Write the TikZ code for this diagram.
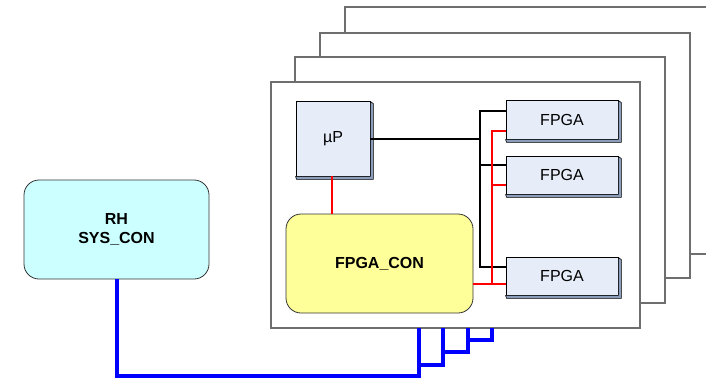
\documentclass[tikz,border=0pt]{standalone}
\usepackage{fontspec}
\setmainfont{Liberation Sans}
\usetikzlibrary{calc}
\definecolor{boxfill}{HTML}{E6ECF8}
\definecolor{boxshade}{HTML}{8C9DBB}
\definecolor{confill}{HTML}{FFFF99}
\definecolor{rhfill}{HTML}{CCFFFF}
\definecolor{boardline}{HTML}{6E6E6E}
\definecolor{busblue}{HTML}{0000FF}
\definecolor{busred}{HTML}{FF0000}
\tikzset{
  board/.style={draw=boardline,line width=1.2pt,fill=white},
  chip/.style={draw=black,line width=0.8pt,fill=boxfill,inner sep=0pt,font=\fontsize{16}{19}\selectfont},
  roundbox/.style={draw=black!80,line width=0.8pt,rounded corners=15pt,inner sep=0pt,align=center,font=\fontsize{16}{19}\selectfont\bfseries},
  blkline/.style={draw=black,line width=2pt},
  redline/.style={draw=busred,line width=2pt},
  blueline/.style={draw=busblue,line width=4pt,line join=miter},
  shade/.style={fill=boxshade,draw=black,line width=0.6pt,line join=round}
}
\newcommand{\chipshade}[1]{%
  \path[shade] ($(#1.north east)+(0,1)$) -- ++(3,2) -- ($(#1.south east)+(3,3)$) -- ($(#1.south west)+(1,3)$) -- (#1.south west) -- (#1.south east) -- cycle;}
\begin{document}
\begin{tikzpicture}[x=1pt,y=-1pt]
\useasboundingbox (0,0) rectangle (706,378);
\clip (0,0) rectangle (706,378);
% boards, back to front
\path[board] (345,7) rectangle (716,254);
\path[board] (320,33) rectangle (690,278);
\path[board] (295,57) rectangle (665,303);
\path[board] (271,82) rectangle (640,328);
% chips
\node[chip,minimum width=74pt,minimum height=75pt] (up) at (333,138.5) {µP};
\node[chip,minimum width=112pt,minimum height=39pt] (f1) at (562,119.5) {FPGA};
\node[chip,minimum width=112pt,minimum height=38pt] (f2) at (562,175) {FPGA};
\node[chip,minimum width=112pt,minimum height=38pt] (f3) at (562,276) {FPGA};
\chipshade{up}\chipshade{f1}\chipshade{f2}\chipshade{f3}
\node[roundbox,fill=confill,minimum width=187pt,minimum height=99pt] (con) at (379.5,263.5) {FPGA\_CON};
\node[roundbox,fill=rhfill,minimum width=185pt,minimum height=99pt] (rh) at (116.5,229.5) {RH\\SYS\_CON};
% black bus
\coordinate (bx) at (480,0);
\coordinate (k1) at ($(f1.north west)+(0,11)$);
\coordinate (k2) at ($(f2.north west)+(0,9)$);
\coordinate (k3) at ($(f3.north west)+(0,10)$);
\draw[blkline] (up.east) -- (up.east -| bx);
\draw[blkline] (k1) -- (k1 -| bx) -- (k3 -| bx) -- (k3);
\draw[blkline] (k2 -| bx) -- (k2);
% red bus
\coordinate (rx) at (492,0);
\coordinate (r1) at ($(f1.south west)+(0,-8)$);
\coordinate (r2) at ($(f2.south west)+(0,-9)$);
\coordinate (r3) at ($(f3.south west)+(0,-11)$);
\draw[redline] (up.south -| 332,0) -- (con.north -| 332,0);
\draw[redline] (r1) -- (r1 -| rx) -- (r3 -| rx);
\draw[redline] (r2 -| rx) -- (r2);
\draw[redline] (r3 -| con.east) -- (r3);
% blue bus
\coordinate (b1) at (419,328);
\coordinate (b2) at (443,328);
\coordinate (b3) at (468,328);
\coordinate (b4) at (492,328);
\draw[blueline] (rh.south) -- (rh.south |- 0,376) -- (b1 |- 0,376) -- (b1);
\draw[blueline] (b2) -- (b2 |- 0,365) -- (b1 |- 0,365);
\draw[blueline] (b3) -- (b3 |- 0,352) -- (b2 |- 0,352);
\draw[blueline] (b4) -- (b4 |- 0,340) -- (b3 |- 0,340);
\end{tikzpicture}
\end{document}
